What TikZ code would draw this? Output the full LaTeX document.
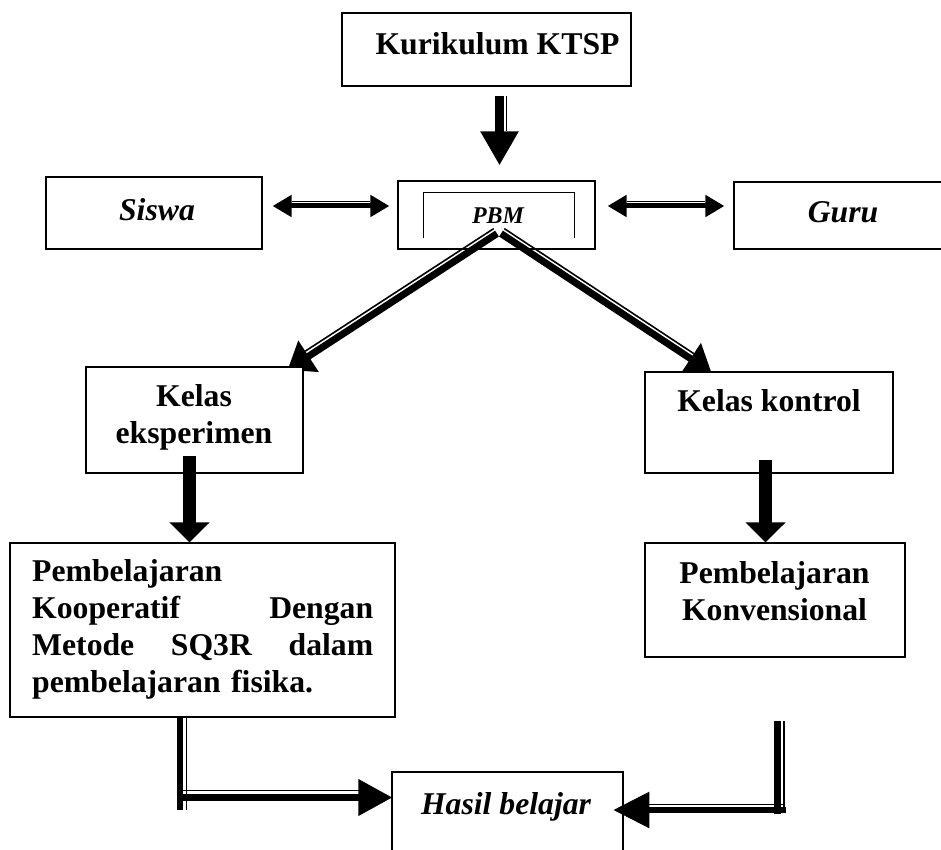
\documentclass[tikz,border=0pt]{standalone}
\usepackage{fontspec}
\setmainfont{Liberation Serif}
\usetikzlibrary{arrows.meta,calc,positioning}
\pgfdeclarelayer{back}
\pgfsetlayers{back,main}

\tikzset{
  box/.style={draw, line width=1.2pt, fill=white, inner sep=0pt},
  txt/.style={font=\bfseries\fontsize{31.7}{37}\selectfont, inner sep=0pt, anchor=base},
  itxt/.style={txt, font=\bfseries\itshape\fontsize{31.7}{37}\selectfont},
  fat/.style={line width=#1},
  hair/.style={line width=1.6pt},
  solidarrow/.style={line width=13pt, -{Triangle[length=20pt,width=39pt]}},
}

\begin{document}
\begin{tikzpicture}[x=1pt, y=-1pt]
  \useasboundingbox (0,0) rectangle (941,850);

  % boxes
  \node[box, minimum width=289pt, minimum height=73pt] (ktsp) at (486.5,49.5) {};
  \node[box, minimum width=216pt, minimum height=72pt] (siswa) at (154,213) {};
  \node[box, fill=none, minimum width=197pt, minimum height=68pt] (pbm) at (496.5,215) {};
  \node[box, minimum width=216pt, minimum height=67pt] (guru) at (842,215.5) {};
  \node[box, minimum width=217pt, minimum height=106pt] (eksp) at (194.5,420) {};
  \node[box, minimum width=248pt, minimum height=101pt] (kontrol) at (769,422.5) {};
  \node[box, minimum width=385pt, minimum height=174pt] (koop) at (202.5,630) {};
  \node[box, minimum width=260pt, minimum height=114pt] (konv) at (775,600) {};
  \node[box, minimum width=231pt, minimum height=106pt] (hasil) at (507.5,825) {};
  \draw[line width=1pt] (423,238) |- (574,193) -- (574,238);

  % texts
  \node[txt] (ktsp-t) at (497.5,55) {Kurikulum KTSP};
  \node[itxt] (siswa-t) at (157,220.5) {Siswa};
  \node[itxt, font=\bfseries\itshape\fontsize{24}{28}\selectfont] (pbm-t) at (498,223.3) {PBM};
  \node[itxt] (guru-t) at (843,222.7) {Guru};
  \node[txt, align=center] (eksp-t) at (194,443.3) {Kelas\\eksperimen};
  \node[txt] (kontrol-t) at (769,411.7) {Kelas kontrol};
  \node[txt, anchor=base west, text width=341pt, align=left] (koop-t) at (32,581.7)
    {Pembelajaran\\Kooperatif\hfill Dengan\\Metode\hfill SQ3R\hfill dalam\\pembelajaran fisika.};
  \node[txt, align=center] (konv-t) at (774.5,620) {Pembelajaran\\Konvensional};
  \node[itxt] (hasil-t) at (506,814) {Hasil belajar};

  % ktsp -> pbm
  \draw[fat=9pt, -{Triangle[length=34pt,width=36pt]}] ($(ktsp.south)+(13,9)$) -- ($(pbm.north)+(3,-15)$);
  \draw[hair] ($(ktsp.south)+(20,9)$) -- ($(pbm.north)+(10,-49)$);

  % siswa <-> pbm <-> guru
  \draw[fat=5pt, {Triangle[length=19pt,width=21pt]}-{Triangle[length=19pt,width=21pt]}]
    ($(siswa.east)+(10,-7)$) -- ($(pbm.west)+(-8,-9)$);
  \draw[hair] ($(siswa.east)+(29,-11.5)$) -- ($(pbm.west)+(-27,-13.5)$);
  \draw[fat=5pt, {Triangle[length=19pt,width=21pt]}-{Triangle[length=19pt,width=21pt]}]
    ($(pbm.east)+(12,-9)$) -- ($(guru.west)+(-9,-9.5)$);
  \draw[hair] ($(pbm.east)+(31,-13.5)$) -- ($(guru.west)+(-28,-14)$);

  % pbm -> kelas (heads sit under the boxes)
  \begin{pgfonlayer}{back}
    \draw[fat=7pt, -{Triangle[length=25pt,width=36pt]}] ($(pbm.south)+(0.5,-16)$) -- ($(eksp.north east)+(-16,3.5)$);
    \draw[hair] ($(pbm.south)+(-2.8,-21)$) -- ($(eksp.north east)+(1.6,-15.2)$);
    \draw[fat=7pt, -{Triangle[length=25pt,width=36pt]}] ($(pbm.south)+(4.5,-16)$) -- ($(kontrol.north west)+(67,1)$);
    \draw[hair] ($(pbm.south)+(7.8,-21)$) -- ($(kontrol.north west)+(49.4,-17.8)$);
  \end{pgfonlayer}

  % kelas -> pembelajaran
  \draw[solidarrow] ($(eksp.south)+(-5,-18)$) -- ($(koop.north)+(-13,0)$);
  \draw[solidarrow] ($(kontrol.south)+(-3.5,-14)$) -- ($(konv.north)+(-9.5,0)$);

  % pembelajaran -> hasil
  \draw[fat=6.7pt] ($(koop.south)+(-22.5,0)$) -- ($(koop.south)+(-22.5,92)$);
  \draw[hair] ($(koop.south)+(-16.2,0)$) -- ($(koop.south)+(-16.2,92)$);
  \draw[fat=7pt, -{Triangle[length=34pt,width=35pt]}] ($(hasil.west)+(-209,-27.5)$) -- ($(hasil.west)+(1,-27.5)$);
  \draw[hair] ($(hasil.west)+(-209,-34.5)$) -- ($(hasil.west)+(-32,-34.5)$);

  \draw[fat=6.7pt] ($(konv.south)+(2.3,63.7)$) -- ($(konv.south)+(2.3,156.3)$);
  \draw[hair] ($(konv.south)+(8.7,63.7)$) -- ($(konv.south)+(8.7,149)$);
  \draw[fat=5.7pt, -{Triangle[length=36pt,width=35pt]}] ($(hasil.east)+(162,-15)$) -- ($(hasil.east)+(-10.3,-15)$);
  \draw[hair] ($(hasil.east)+(160,-20.5)$) -- ($(hasil.east)+(25.5,-20.5)$);
\end{tikzpicture}
\end{document}
